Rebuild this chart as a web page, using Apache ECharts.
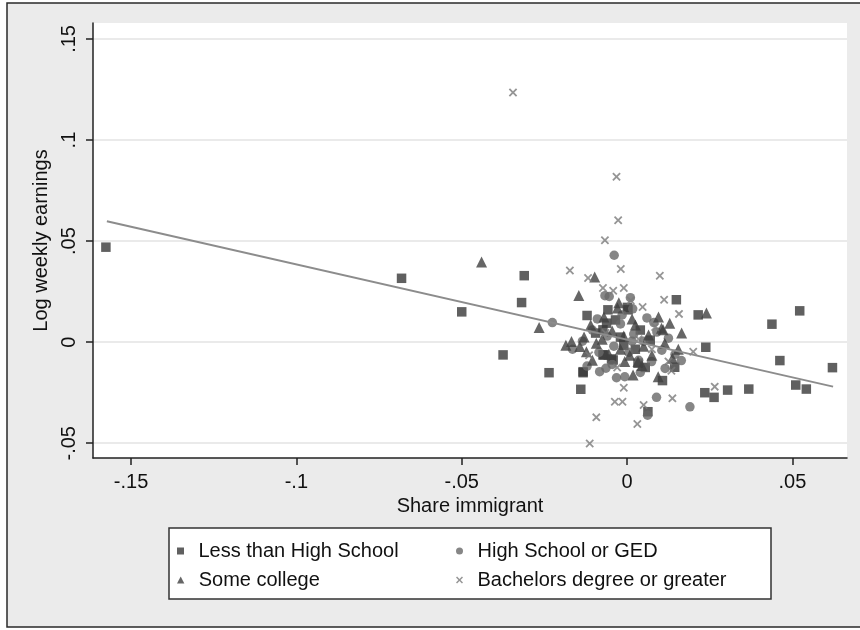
<!DOCTYPE html>
<html>
<head>
<meta charset="utf-8">
<script src="https://cdn.jsdelivr.net/npm/echarts@6/dist/echarts.min.js"></script>
<style>
  html, body { margin: 0; padding: 0; background: #ffffff; }
  #chart { width: 860px; height: 630px; }
</style>
</head>
<body>
<div id="chart"></div>
<script>
// Axis ticks (share immigrant on x, log weekly earnings on y)
const xTicks = [-0.15, -0.1, -0.05, 0, 0.05];
const yTicks = [-0.05, 0, 0.05, 0.1, 0.15];
const xRange = [-0.1615, 0.0665];
const yRange = [-0.0573, 0.1579];

const seriesNames = ['Less than High School', 'High School or GED', 'Some college', 'Bachelors degree or greater'];

// [share immigrant, log weekly earnings]
const lessThanHS = [
  [-0.1576, 0.047], [-0.0682, 0.0316], [-0.05, 0.015], [-0.0375, -0.0063],
  [-0.0311, 0.0329], [-0.0319, 0.0196], [-0.0236, -0.0151], [-0.0133, -0.0151],
  [-0.014, -0.0233], [-0.0121, 0.0132], [-0.007, -0.0063], [-0.0042, -0.0088],
  [-0.0058, 0.016], [0.0001, 0.0172], [0.0149, 0.021], [0.0215, 0.0135],
  [0.0107, -0.019], [0.0063, -0.0344], [0.0522, 0.0155], [0.0438, 0.0089],
  [0.0238, -0.0025], [0.0462, -0.0091], [0.0621, -0.0126], [0.0144, -0.0124],
  [0.0235, -0.025], [0.0263, -0.0273], [0.0304, -0.0237], [0.0368, -0.0232],
  [0.051, -0.0212], [0.0542, -0.0232],
  [-0.0062, 0.0094], [-0.0073, 0.0061], [0.0003, 0.016], [-0.0073, -0.0063],
  [-0.0133, -0.0146], [-0.0047, -0.0083], [0.0033, -0.0104],
  [-0.0095, 0.0045], [-0.002, 0.0025], [0.004, 0.006], [0.0025, -0.0035],
  [-0.001, -0.0015], [0.007, 0.001], [-0.0035, 0.011], [0.0055, -0.0125]
];

const highSchool = [
  [-0.0039, 0.043], [-0.0226, 0.0097], [-0.0067, 0.023], [0.0081, 0.0097],
  [0.0017, 0.0165], [-0.0121, -0.0118], [-0.0083, -0.0146], [-0.0064, -0.0129],
  [-0.0032, -0.0176], [-0.0007, -0.0171], [0.0089, -0.0273], [0.0062, -0.0361],
  [0.0074, -0.0096], [0.019, -0.032], [0.0164, -0.0091], [-0.0054, 0.0226],
  [-0.0105, 0.006], [-0.006, 0.003], [-0.002, 0.009], [0.002, 0.004],
  [0.005, 0.0005], [-0.004, -0.002], [0.0005, -0.005], [0.0035, -0.009],
  [-0.0085, -0.005], [0.0105, -0.004], [0.0125, 0.002], [-0.0015, 0.0135],
  [0.006, 0.012], [-0.009, 0.0115], [0.0015, 0.0005], [-0.0135, 0.0005],
  [0.009, 0.005], [0.004, -0.015], [-0.0045, -0.011], [0.0115, -0.013],
  [0.001, 0.022], [-0.0165, -0.0035], [0.0145, -0.006]
];

const someCollege = [
  [-0.044, 0.0397], [-0.0098, 0.0322], [-0.0146, 0.0231], [-0.0266, 0.0072],
  [-0.0029, 0.0169], [0.0129, 0.0094], [0.0104, 0.0069], [-0.0168, 0.0003],
  [0.024, 0.0144], [0.0114, -0.0005], [0.0137, -0.0079], [-0.0143, -0.0022],
  [-0.0007, -0.0096], [0.0018, -0.0162], [0.0094, -0.0171], [-0.0093, -0.0005],
  [0.0033, -0.0096], [-0.0123, -0.0047], [0.0109, 0.0061],
  [-0.007, 0.0125], [-0.0045, 0.0055], [-0.001, 0.003], [0.0025, 0.0085],
  [0.005, -0.002], [0.0075, -0.0065], [-0.0055, -0.006], [-0.002, -0.0035],
  [0.0015, 0.0115], [-0.011, 0.0085], [0.0065, 0.0035], [0.0045, -0.0115],
  [-0.0075, 0.0015], [0.0095, 0.0125], [-0.0025, 0.0195], [0.0008, -0.0065],
  [-0.013, 0.0025], [0.0165, 0.0045], [0.0155, -0.0035], [-0.0185, -0.0015],
  [-0.0105, -0.009]
];

const bachelors = [
  [-0.0345, 0.1235], [-0.0032, 0.0818], [-0.0027, 0.0603], [-0.0067, 0.0504],
  [-0.0173, 0.0355], [-0.0118, 0.0317], [-0.0019, 0.0362], [-0.0073, 0.0268],
  [-0.0042, 0.0254], [-0.001, 0.0268], [0.0099, 0.0329], [0.0112, 0.021],
  [0.0047, 0.0174], [0.0011, 0.0206], [-0.001, -0.0225], [-0.0037, -0.0295],
  [-0.0014, -0.0295], [-0.0093, -0.0372], [0.005, -0.0311], [0.0031, -0.0405],
  [-0.0113, -0.0501], [0.0137, -0.0278], [0.0134, -0.0141], [0.0157, 0.014],
  [0.02, -0.0047], [0.0265, -0.022],
  [-0.0065, 0.0045], [0.0035, 0.0015], [0.0075, -0.0035], [-0.003, -0.0125],
  [0.0085, 0.0075], [-0.0115, -0.0065], [0.0125, -0.0095]
];

// Fitted values of the linear fit, at the smallest and largest share immigrant
const fitLine = [[-0.1573, 0.0598], [0.0623, -0.022]];

const FONT = '"Liberation Sans", Arial, Helvetica, sans-serif';
// Marker shapes as paths so that legend icons keep their proportions
const squarePath = 'path://M0,0H10V10H0Z';
const trianglePath = 'path://M5,0L10,9.5H0Z';
const crossPath = 'path://M0,1.5L1.5,0L5,3.5L8.5,0L10,1.5L6.5,5L10,8.5L8.5,10L5,6.5L1.5,10L0,8.5L3.5,5Z';

function stataLabel(v) {
  if (Math.abs(v) < 1e-12) return '0';
  const s = String(Math.abs(+v.toFixed(4))).replace(/^0/, '');
  return (v < 0 ? '-' : '') + s;
}

const chart = echarts.init(document.getElementById('chart'), null, { renderer: 'canvas' });

function legendAt(name, left, top) {
  return {
    data: [name], left: left, top: top, orient: 'horizontal',
    itemWidth: 26, itemHeight: 7, symbolKeepAspect: true,
    textStyle: { fontFamily: FONT, fontSize: 20, color: '#111' },
    selectedMode: false, padding: 0
  };
}

chart.setOption({
  animation: false,
  backgroundColor: '#ffffff',
  graphic: [
    { type: 'rect', z: -10, shape: { x: 7, y: 3, width: 860, height: 624 },
      style: { fill: '#ebebeb', stroke: '#2a2a2a', lineWidth: 1.5 } },
    { type: 'rect', z: -5, shape: { x: 169, y: 528, width: 602, height: 71 },
      style: { fill: '#ffffff', stroke: '#333333', lineWidth: 1.5 } }
  ],
  grid: {
    left: 93, right: 13, top: 23, bottom: 172,
    show: true, backgroundColor: '#ffffff', borderWidth: 0
  },
  legend: [
    legendAt(seriesNames[0], 177, 541),
    legendAt(seriesNames[1], 456, 541),
    legendAt(seriesNames[2], 177, 570),
    legendAt(seriesNames[3], 456, 570)
  ],
  xAxis: {
    type: 'value', min: xRange[0], max: xRange[1],
    name: 'Share immigrant', nameLocation: 'middle', nameGap: 36,
    nameTextStyle: { fontFamily: FONT, fontSize: 20, color: '#111' },
    axisLine: { show: true, onZero: false, lineStyle: { color: '#222', width: 1.5 } },
    axisTick: { show: true, length: 7, customValues: xTicks, lineStyle: { color: '#222', width: 1.5 } },
    axisLabel: { customValues: xTicks, formatter: stataLabel, margin: 14,
      fontFamily: FONT, fontSize: 20, color: '#111' },
    splitLine: { show: false }
  },
  yAxis: {
    type: 'value', min: yRange[0], max: yRange[1],
    name: 'Log weekly earnings', nameLocation: 'middle', nameGap: 38,
    nameTextStyle: { fontFamily: FONT, fontSize: 20, color: '#111' },
    axisLine: { show: true, onZero: false, lineStyle: { color: '#222', width: 1.5 } },
    axisTick: { show: true, length: 7, customValues: yTicks, lineStyle: { color: '#222', width: 1.5 } },
    axisLabel: { customValues: yTicks, formatter: stataLabel, rotate: 90, margin: 14,
      fontFamily: FONT, fontSize: 20, color: '#111' },
    splitLine: { show: true, lineStyle: { color: '#e3e3e3', width: 1.5 } }
  },
  series: [
    { name: seriesNames[0], type: 'scatter', data: lessThanHS, symbol: squarePath, symbolSize: 9.5,
      itemStyle: { color: '#383838' } },
    { name: seriesNames[1], type: 'scatter', data: highSchool, symbol: 'circle', symbolSize: 9.5,
      itemStyle: { color: '#686868' } },
    { name: seriesNames[2], type: 'scatter', data: someCollege, symbol: trianglePath, symbolSize: 11,
      itemStyle: { color: '#404040' } },
    { name: seriesNames[3], type: 'scatter', data: bachelors, symbol: crossPath, symbolSize: 8.5,
      itemStyle: { color: '#7a7a7a' } },
    { name: 'Fitted values', type: 'line', data: fitLine, showSymbol: false, symbol: 'none',
      lineStyle: { color: '#8c8c8c', width: 2 }, z: 5 }
  ]
});
</script>
</body>
</html>
